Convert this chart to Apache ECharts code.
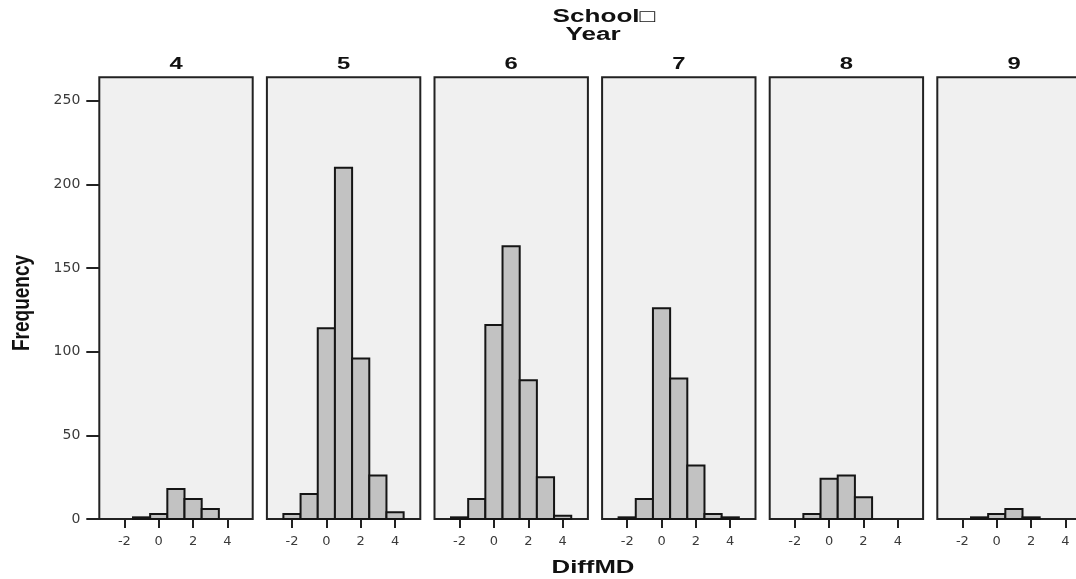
<!DOCTYPE html>
<html>
<head>
<meta charset="utf-8">
<script src="https://cdn.jsdelivr.net/npm/echarts@6/dist/echarts.min.js"></script>
<style>
  html, body { margin: 0; padding: 0; background: #ffffff; }
  #chart { width: 1076px; height: 579px; }
</style>
</head>
<body>
<div id="chart"></div>
<script>
// ---- data ----
const panelLabels = ['4', '5', '6', '7', '8', '9'];
const bins = [-2, -1, 0, 1, 2, 3, 4];
const binWidth = 1;
const year4 = [0, 1, 3, 18, 12, 6, 0];
const year5 = [3, 15, 114, 210, 96, 26, 4];
const year6 = [1, 12, 116, 163, 83, 25, 2];
const year7 = [1, 12, 126, 84, 32, 3, 1];
const year8 = [0, 3, 24, 26, 13, 0, 0];
const year9 = [0, 1, 3, 6, 1, 0, 0];
const xTicks = [-2, 0, 2, 4];
const yTicks = [0, 50, 100, 150, 200, 250];
const titleLine1 = 'School\u25A1';
const titleLine2 = 'Year';
const xName = 'DiffMD';
const yName = 'Frequency';

const panels = [year4, year5, year6, year7, year8, year9];

// ---- layout ----
const gLeft0 = 99.3, gStep = 167.6, gWidth = 153.4, gTop = 77.3, gHeight = 441.7;
const xMin = -3.46, xMax = 5.47, yMax = 264;
const FONT = "'Liberation Sans', Arial, Helvetica, sans-serif";
const TICKFONT = "'DejaVu Sans', 'Liberation Sans', sans-serif";

const grids = [], xAxes = [], yAxes = [], series = [], graphics = [];

panels.forEach((vals, i) => {
  const left = gLeft0 + gStep * i;
  grids.push({
    left: left, top: gTop, width: gWidth, height: gHeight,
    show: true, backgroundColor: '#f0f0f0', borderColor: '#222222', borderWidth: 2,
    containLabel: false, outerBoundsMode: 'none'
  });
  xAxes.push({
    type: 'value', gridIndex: i, min: xMin, max: xMax,
    axisLine: { show: false, onZero: false },
    splitLine: { show: false },
    axisTick: { show: true, customValues: xTicks, length: 9, lineStyle: { color: '#222222', width: 2 } },
    axisLabel: { show: true, customValues: xTicks, margin: 16, fontSize: 13, fontFamily: TICKFONT, color: '#3a3a3a' }
  });
  yAxes.push({
    type: 'value', gridIndex: i, min: 0, max: yMax,
    axisLine: { show: false, onZero: false },
    splitLine: { show: false },
    axisTick: { show: i === 0, customValues: yTicks, length: 13, lineStyle: { color: '#222222', width: 2 } },
    axisLabel: { show: i === 0, customValues: yTicks, margin: 19, fontSize: 14, fontFamily: TICKFONT, color: '#3a3a3a' }
  });
  const data = [];
  bins.forEach((b, j) => { if (vals[j] > 0) data.push([b, vals[j]]); });
  series.push({
    type: 'custom', xAxisIndex: i, yAxisIndex: i, data: data, silent: true,
    renderItem: function (params, api) {
      const x = api.value(0), v = api.value(1);
      const p0 = api.coord([x - binWidth / 2, 0]);
      const p1 = api.coord([x + binWidth / 2, v]);
      return {
        type: 'rect',
        shape: { x: p0[0], y: p1[1], width: p1[0] - p0[0], height: p0[1] - p1[1] },
        style: { fill: '#c2c2c2', stroke: '#151515', lineWidth: 2 }
      };
    }
  });
  graphics.push({
    type: 'text', x: left + gWidth / 2, y: 64, scaleX: 1.4, scaleY: 1,
    style: { text: panelLabels[i], x: 0, y: 0, fill: '#111111', font: 'bold 17px ' + FONT,
             align: 'center', verticalAlign: 'middle', textAlign: 'center', textVerticalAlign: 'middle' }
  });
});

graphics.push({
  type: 'text', x: 604, y: 17, scaleX: 1.45, scaleY: 1,
  style: { text: titleLine1, x: 0, y: 0, fill: '#111111', font: 'bold 18px ' + FONT,
           align: 'center', verticalAlign: 'middle', textAlign: 'center', textVerticalAlign: 'middle' }
});
graphics.push({
  type: 'text', x: 593, y: 35, scaleX: 1.45, scaleY: 1,
  style: { text: titleLine2, x: 0, y: 0, fill: '#111111', font: 'bold 18px ' + FONT,
           align: 'center', verticalAlign: 'middle', textAlign: 'center', textVerticalAlign: 'middle' }
});
graphics.push({
  type: 'text', x: 593, y: 568, scaleX: 1.43, scaleY: 1,
  style: { text: xName, x: 0, y: 0, fill: '#111111', font: 'bold 18px ' + FONT,
           align: 'center', verticalAlign: 'middle', textAlign: 'center', textVerticalAlign: 'middle' }
});
graphics.push({
  type: 'text', x: 22, y: 303, rotation: Math.PI / 2, scaleX: 1, scaleY: 1.3,
  style: { text: yName, x: 0, y: 0, fill: '#111111', font: 'bold 19px ' + FONT,
           align: 'center', verticalAlign: 'middle', textAlign: 'center', textVerticalAlign: 'middle' }
});

const chart = echarts.init(document.getElementById('chart'), null, { renderer: 'canvas' });
chart.setOption({
  animation: false,
  backgroundColor: '#ffffff',
  grid: grids,
  xAxis: xAxes,
  yAxis: yAxes,
  series: series,
  graphic: { elements: graphics }
});
</script>
</body>
</html>
